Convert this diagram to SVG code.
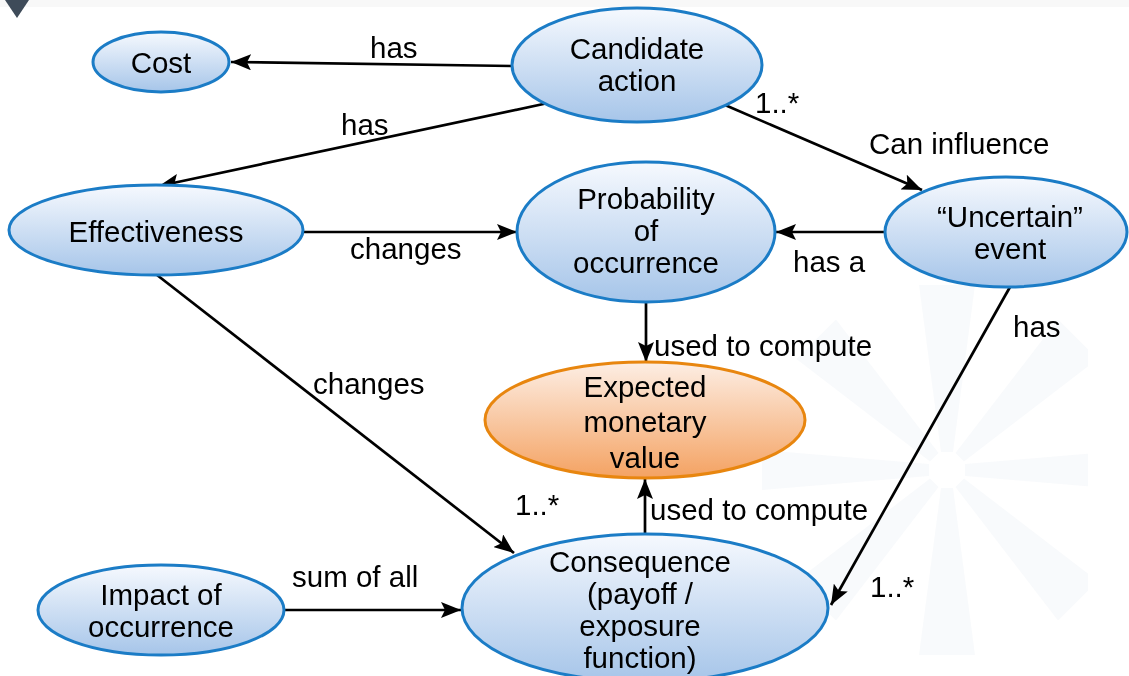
<svg xmlns="http://www.w3.org/2000/svg" width="1129" height="676" viewBox="0 0 1129 676">
  <style>
    .node { stroke: #1b7cc6; stroke-width: 3; fill: url(#blueFill); }
    .goal { stroke: #e8860f; stroke-width: 3; fill: url(#orangeFill); }
    .txt { font-family: "Liberation Sans", Arial, sans-serif; font-size: 29.5px; fill: #000; text-anchor: middle; }
    .lbl { font-family: "Liberation Sans", Arial, sans-serif; font-size: 29.5px; fill: #000; }
    .edge { stroke: #000; stroke-width: 2.7; fill: none; marker-end: url(#arrow); }
    .ray { fill: #eef2f7; }
  </style>
  <defs>
    <linearGradient id="blueFill" x1="0" y1="0" x2="0" y2="1">
      <stop offset="0" stop-color="#f6f9fe"/>
      <stop offset="1" stop-color="#a6c5e9"/>
    </linearGradient>
    <linearGradient id="orangeFill" x1="0" y1="0" x2="0" y2="1">
      <stop offset="0" stop-color="#fdeee4"/>
      <stop offset="1" stop-color="#f4a262"/>
    </linearGradient>
    <marker id="arrow" markerUnits="userSpaceOnUse" markerWidth="22" markerHeight="16" refX="20" refY="8" orient="auto">
      <path d="M0,0 L20,8 L0,16 L4,8 z" fill="#000"/>
    </marker>
    <clipPath id="burstClip">
      <rect x="755" y="284" width="333" height="376"/>
    </clipPath>
  </defs>

  <rect width="1129" height="676" fill="#ffffff"/>
  <!-- header strip and collapse marker -->
  <rect x="0" y="0" width="1129" height="7" fill="#f8f8f8"/>
  <path d="M5,0 L29,0 L17,18 z" fill="#3e4b59"/>

  <!-- faint starburst backdrop -->
  <g id="backdrop" clip-path="url(#burstClip)" opacity="0.4">
    <g transform="translate(947,470)">
      <path class="ray" d="M-6,-18 L-28,-185 L28,-185 L6,-18 z"/>
      <path class="ray" d="M-6,-18 L-28,-185 L28,-185 L6,-18 z" transform="rotate(45)"/>
      <path class="ray" d="M-6,-18 L-20,-185 L20,-185 L6,-18 z" transform="rotate(90)"/>
      <path class="ray" d="M-6,-18 L-28,-185 L28,-185 L6,-18 z" transform="rotate(135)"/>
      <path class="ray" d="M-6,-18 L-28,-185 L28,-185 L6,-18 z" transform="rotate(180)"/>
      <path class="ray" d="M-6,-18 L-28,-185 L28,-185 L6,-18 z" transform="rotate(225)"/>
      <path class="ray" d="M-6,-18 L-20,-185 L20,-185 L6,-18 z" transform="rotate(270)"/>
      <path class="ray" d="M-6,-18 L-28,-185 L28,-185 L6,-18 z" transform="rotate(315)"/>
    </g>
  </g>

  <!-- connectors -->
  <g id="connectors">
    <line class="edge" x1="512" y1="66" x2="231" y2="62"/>
    <line class="edge" x1="548" y1="103" x2="159" y2="186"/>
    <line class="edge" x1="725" y1="105" x2="922" y2="190"/>
    <line class="edge" x1="303" y1="232" x2="517" y2="232"/>
    <line class="edge" x1="885" y1="232" x2="776" y2="232"/>
    <line class="edge" x1="646" y1="302" x2="646" y2="362"/>
    <line class="edge" x1="645" y1="534" x2="645" y2="479"/>
    <line class="edge" x1="157" y1="275" x2="514" y2="553"/>
    <line class="edge" x1="1010" y1="287" x2="831" y2="605"/>
    <line class="edge" x1="284" y1="610" x2="461" y2="610"/>

    <text class="lbl" x="370" y="58">has</text>
    <text class="lbl" x="341" y="135">has</text>
    <text class="lbl" x="755" y="113">1..*</text>
    <text class="lbl" x="869" y="154">Can influence</text>
    <text class="lbl" x="350" y="259">changes</text>
    <text class="lbl" x="793" y="272">has a</text>
    <text class="lbl" x="1013" y="337">has</text>
    <text class="lbl" x="654" y="356">used to compute</text>
    <text class="lbl" x="313" y="394">changes</text>
    <text class="lbl" x="515" y="515">1..*</text>
    <text class="lbl" x="650" y="520">used to compute</text>
    <text class="lbl" x="292" y="587">sum of all</text>
    <text class="lbl" x="870" y="597">1..*</text>
  </g>

  <!-- nodes -->
  <g id="cost">
    <ellipse class="node" cx="161" cy="62" rx="68" ry="30"/>
    <text class="txt" x="161" y="73">Cost</text>
  </g>
  <g id="candidate-action">
    <ellipse class="node" cx="637" cy="65" rx="125" ry="57"/>
    <text class="txt" x="637" y="59">Candidate</text>
    <text class="txt" x="637" y="91">action</text>
  </g>
  <g id="effectiveness">
    <ellipse class="node" cx="156" cy="230" rx="147" ry="45"/>
    <text class="txt" x="156" y="242">Effectiveness</text>
  </g>
  <g id="probability">
    <ellipse class="node" cx="646" cy="232" rx="129" ry="70"/>
    <text class="txt" x="646" y="209">Probability</text>
    <text class="txt" x="646" y="241">of</text>
    <text class="txt" x="646" y="273">occurrence</text>
  </g>
  <g id="uncertain-event">
    <ellipse class="node" cx="1006" cy="232" rx="121" ry="55"/>
    <text class="txt" x="1010" y="227">“Uncertain”</text>
    <text class="txt" x="1010" y="259">event</text>
  </g>
  <g id="expected-monetary-value">
    <ellipse class="goal" cx="645" cy="420" rx="160" ry="58"/>
    <text class="txt" x="645" y="397">Expected</text>
    <text class="txt" x="645" y="432">monetary</text>
    <text class="txt" x="645" y="468">value</text>
  </g>
  <g id="consequence">
    <ellipse class="node" cx="645" cy="608" rx="183" ry="74"/>
    <text class="txt" x="640" y="572">Consequence</text>
    <text class="txt" x="640" y="604">(payoff /</text>
    <text class="txt" x="640" y="636">exposure</text>
    <text class="txt" x="640" y="668">function)</text>
  </g>
  <g id="impact">
    <ellipse class="node" cx="161" cy="610" rx="123" ry="45"/>
    <text class="txt" x="161" y="605">Impact of</text>
    <text class="txt" x="161" y="637">occurrence</text>
  </g>
</svg>
